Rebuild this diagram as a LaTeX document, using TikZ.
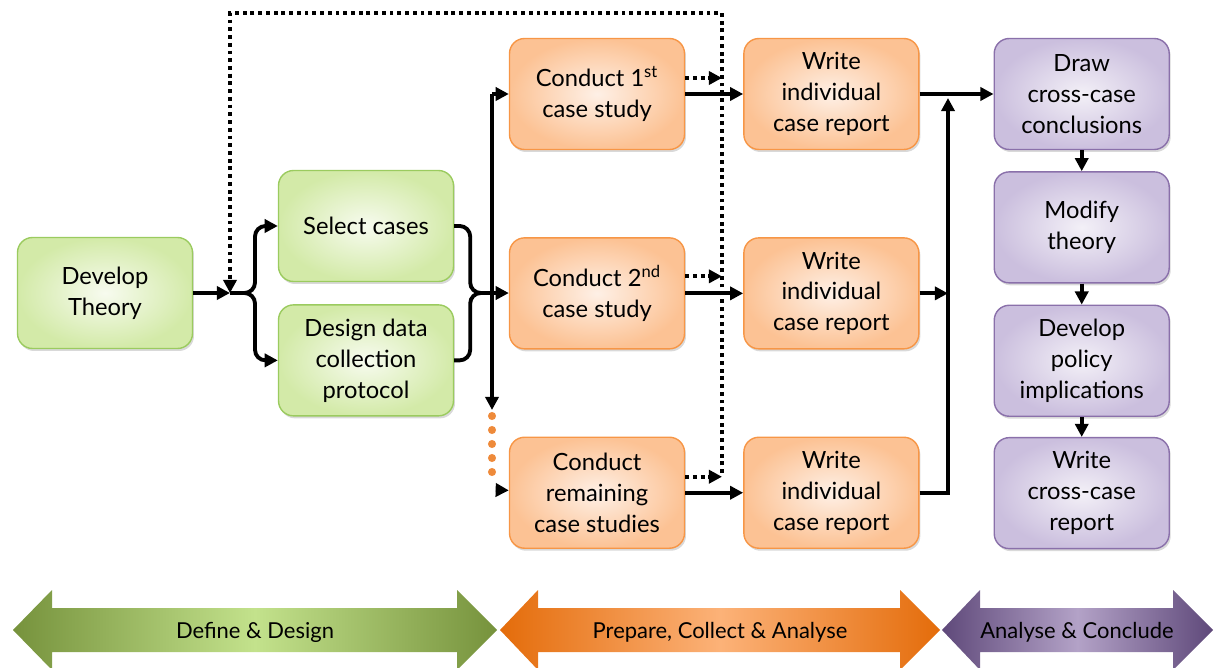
\documentclass[tikz,border=0pt]{standalone}
\usepackage{fontspec}
\setmainfont{Lato}
\usetikzlibrary{shapes.geometric, arrows.meta, positioning, shadows}

\definecolor{greenline}{HTML}{9BCB5F}
\definecolor{greenin}{HTML}{F7FBEF}
\definecolor{greenout}{HTML}{D3EAA8}
\definecolor{orangeline}{HTML}{F79646}
\definecolor{orangein}{HTML}{FEF0E6}
\definecolor{orangeout}{HTML}{FCC294}
\definecolor{purpleline}{HTML}{8A70AA}
\definecolor{purplein}{HTML}{F3F0F7}
\definecolor{purpleout}{HTML}{CBBFDE}
\definecolor{greendark}{HTML}{76923C}
\definecolor{greenlight}{HTML}{C3E28C}
\definecolor{orangedark}{HTML}{E46C0A}
\definecolor{orangelight}{HTML}{FCB278}
\definecolor{purpledark}{HTML}{5F497A}
\definecolor{purplelight}{HTML}{B3A2C7}
\definecolor{dotorange}{HTML}{EE8A3A}

\begin{document}
\begin{tikzpicture}[x=0.02cm, y=-0.02cm, font=\fontsize{13.5}{17.6}\selectfont]
    \tikzstyle{box} = [rectangle, rounded corners=0.3cm, minimum width=3.5cm, minimum height=2.22cm, align=center, line width=0.8pt, drop shadow={opacity=0.3, shadow xshift=0.03cm, shadow yshift=-0.05cm}]
    \tikzstyle{define} = [box, draw=greenline, inner color=greenin, outer color=greenout]
    \tikzstyle{collect} = [box, draw=orangeline, inner color=orangein, outer color=orangeout]
    \tikzstyle{conclude} = [box, draw=purpleline, inner color=purplein, outer color=purpleout]
    \tikzstyle{arrow} = [line width=2.2pt, ->, >={Triangle[length=7.5pt,width=7.5pt]}]
    \tikzstyle{dotarrow} = [arrow, dash pattern=on 2.2pt off 2.2pt]
    \tikzstyle{link} = [line width=2.2pt]
    \tikzstyle{phase} = [font=\fontsize{12.5}{15}\selectfont]

    \useasboundingbox (0,0) rectangle (1219,668);

    \node (theory) [define] at (105,293) {Develop\\Theory};
    \node (select) [define] at (366,226) {Select cases};
    \node (design) [define, below=0.44cm of select] {Design data\\collection\\protocol};

    \node (conda) [collect] at (597,94) {Conduct 1\textsuperscript{st}\\case study};
    \node (condb) [collect, below=1.74cm of conda] {Conduct 2\textsuperscript{nd}\\case study};
    \node (condc) [collect, below=1.74cm of condb] {Conduct\\remaining\\case studies};
    \node (writea) [collect, right=1.16cm of conda] {Write\\individual\\case report};
    \node (writeb) [collect, right=1.16cm of condb] {Write\\individual\\case report};
    \node (writec) [collect, right=1.16cm of condc] {Write\\individual\\case report};

    \node (draw) [conclude, right=1.48cm of writea] {Draw\\cross-case\\conclusions};
    \node (modify) [conclude, below=0.42cm of draw] {Modify\\theory};
    \node (policy) [conclude, below=0.42cm of modify] {Develop\\policy\\implications};
    \node (report) [conclude, below=0.4cm of policy] {Write\\cross-case\\report};

    \coordinate (split) at (230,293);
    \coordinate (merge) at (492,293);
    \coordinate (trunktop) at (492,94);
    \coordinate (trunkbot) at (492,410);
    \coordinate (dotsend) at (496,490);
    \coordinate (fbtop) at (722,13);
    \coordinate (fbleft) at (230,13);
    \coordinate (fbbot) at (722,473);
    \coordinate (gather) at (948,98);

    \draw [arrow] (theory) -- (split);
    \draw [arrow, rounded corners=6pt] (split) -- ++(25,0) |- (select.west);
    \draw [arrow, rounded corners=6pt] (split) -- ++(25,0) |- (design.west);
    \draw [link, rounded corners=6pt] (select.east) -- ++(16,0) |- (merge);
    \draw [link, rounded corners=6pt] (design.east) -- ++(16,0) |- (merge);

    \draw [arrow] (trunktop) -- (trunkbot);
    \draw [arrow] (trunktop) -- (conda);
    \draw [arrow] (merge) -- (condb);
    \foreach \y in {416,430,444,458,472}
        \fill [dotorange] (492,\y) circle (2.3pt);
    \draw [arrow] (dotsend) -- (condc);

    \draw [arrow] (conda) -- (writea);
    \draw [arrow] (condb) -- (writeb);
    \draw [arrow] (condc) -- (writec);

    \draw [dotarrow] ([yshift=0.32cm]conda.east) -- ([yshift=0.32cm]conda.east -| fbtop);
    \draw [dotarrow] ([yshift=0.34cm]condb.east) -- ([yshift=0.34cm]condb.east -| fbtop);
    \draw [dotarrow] ([yshift=0.32cm]condc.east) -- ([yshift=0.32cm]condc.east -| fbtop);
    \draw [dotarrow] (fbbot) -- (fbtop) -- (fbleft) -- (split);

    \draw [arrow] (writea) -- (draw);
    \draw [arrow] (writeb) -- (writeb.east -| gather);
    \draw [arrow] (writec) -| (gather);

    \draw [arrow] (draw) -- (modify);
    \draw [arrow] (modify) -- (policy);
    \draw [arrow] (policy) -- (report);

    \shade [left color=greendark, right color=greendark, middle color=greenlight]
        (13,630) -- (52,590) -- (52,608) -- (457,608) -- (457,590) -- (497,630)
        -- (457,670) -- (457,652) -- (52,652) -- (52,670) -- cycle;
    \shade [left color=orangedark, right color=orangedark, middle color=orangelight]
        (500,630) -- (538,590) -- (538,608) -- (900,608) -- (900,590) -- (940,630)
        -- (900,670) -- (900,652) -- (538,652) -- (538,670) -- cycle;
    \shade [left color=purpledark, right color=purpledark, middle color=purplelight]
        (942,630) -- (980,590) -- (980,608) -- (1173,608) -- (1173,590) -- (1213,630)
        -- (1173,670) -- (1173,652) -- (980,652) -- (980,670) -- cycle;
    \node (ddesign) [phase] at (255,632) {Define \& Design};
    \node (pcollect) [phase] at (720,632) {Prepare, Collect \& Analyse};
    \node (aconclude) [phase] at (1077,632) {Analyse \& Conclude};
\end{tikzpicture}
\end{document}
